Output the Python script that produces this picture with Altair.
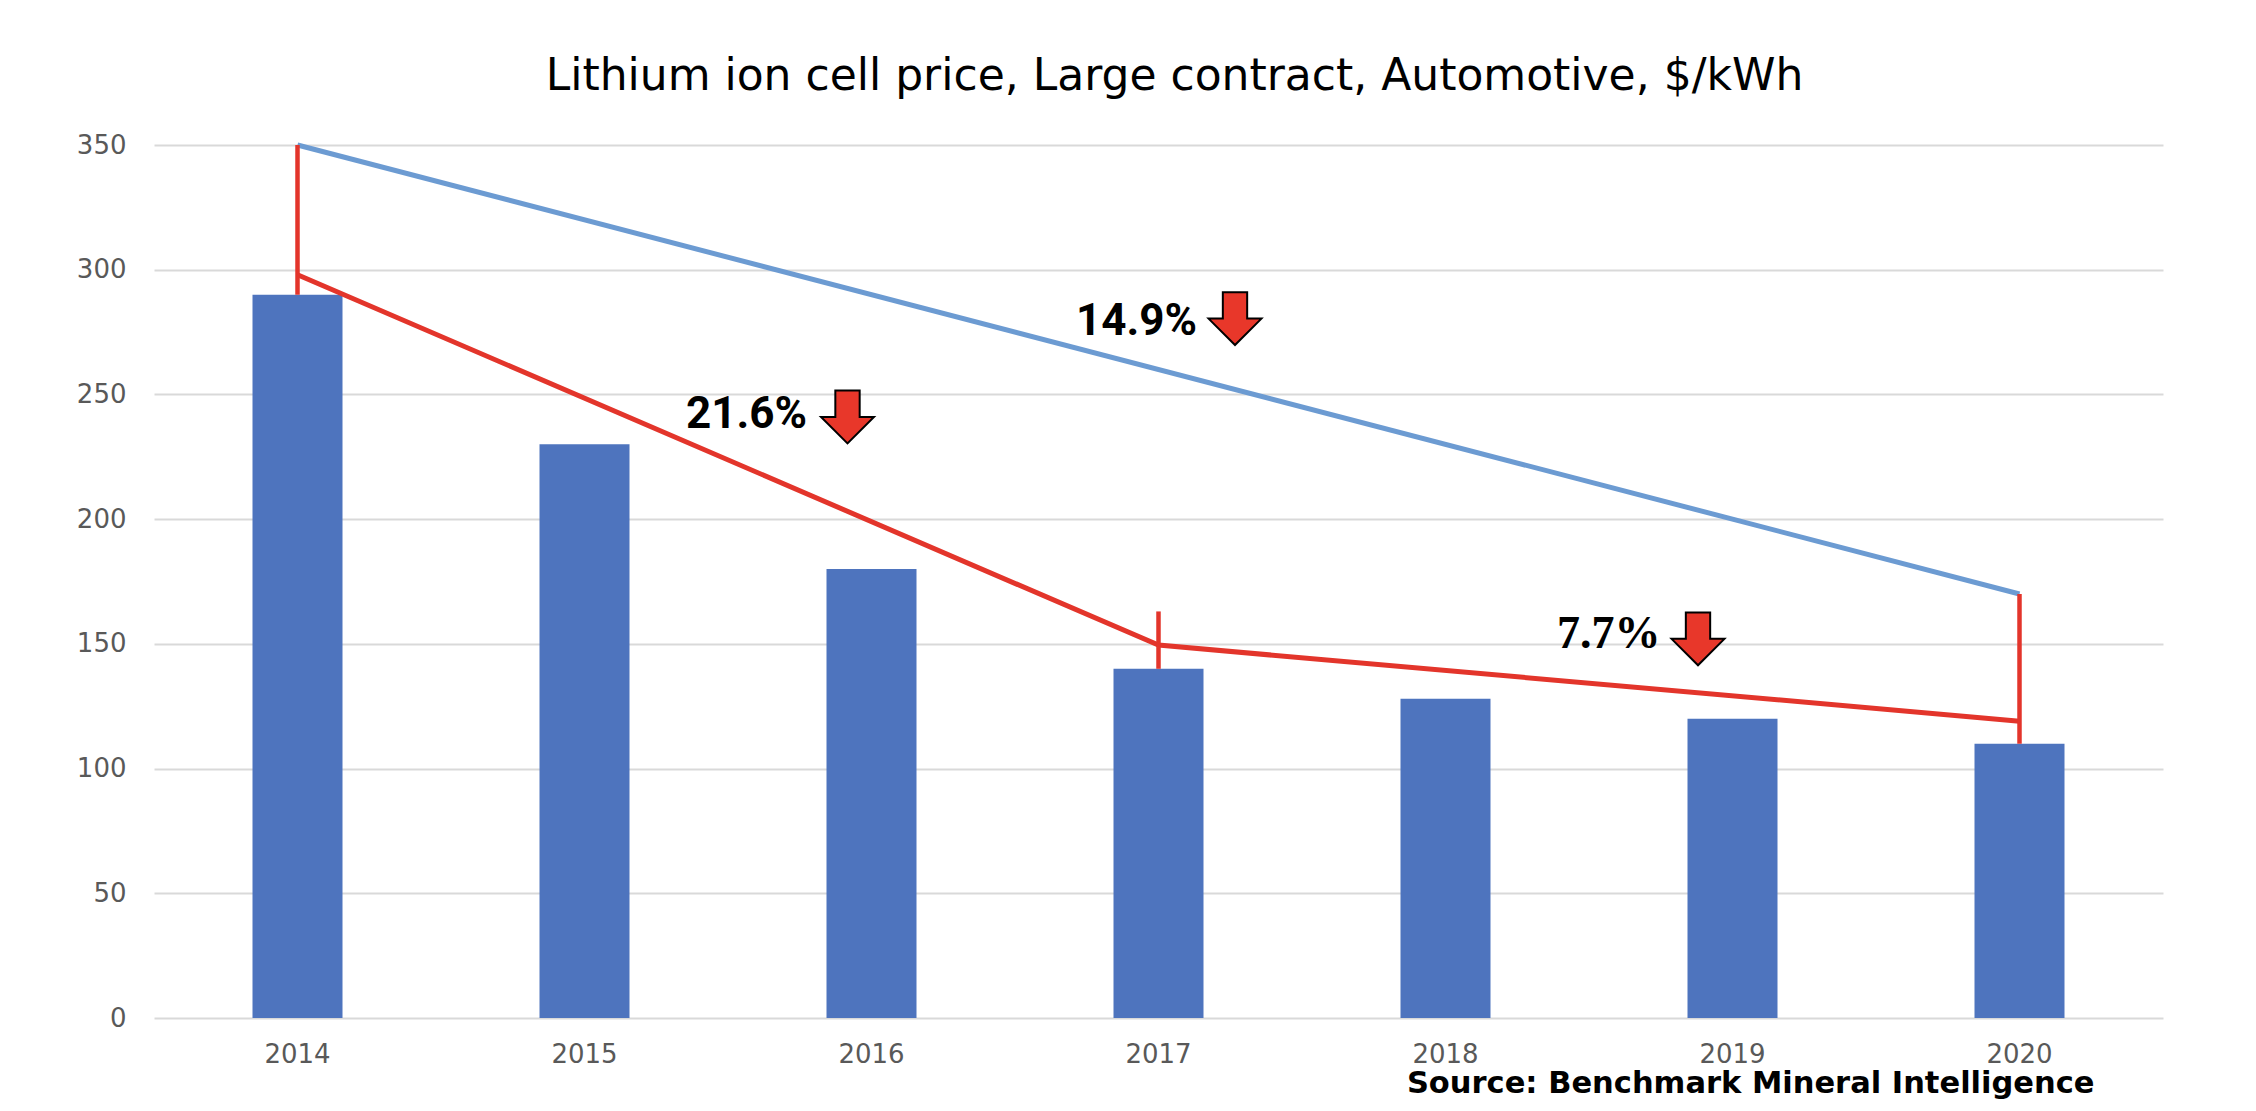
import altair as alt
import pandas as pd

# ---- data ----
years = ["2014", "2015", "2016", "2017", "2018", "2019", "2020"]
prices = [290, 230, 180, 140, 128, 120, 110]

blue_years = ["2014", "2020"]
blue_vals = [350, 170]

red_years = ["2014", "2017", "2020"]
red_vals = [298, 149.5, 119]

rule_years = ["2014", "2017", "2020"]
rule_top = [350, 163, 170]
rule_bottom = [290, 140, 110]

y_ticks = [0, 50, 100, 150, 200, 250, 300, 350]

ann_labels = ["14.9%", "21.6%", "7.7%"]
ann_years = ["2017", "2016", "2019"]
ann_text_y = [273.8, 236.5, 148.3]
ann_arrow_y = [280.4, 241.0, 152.0]

title_text = "Lithium ion cell price, Large contract, Automotive, $/kWh"
source_text = "Source: Benchmark Mineral Intelligence"

# ---- tables ----
bars_df = pd.DataFrame({"year": years, "price": prices})
blue_df = pd.DataFrame({"year": blue_years, "v": blue_vals})
red_df = pd.DataFrame({"year": red_years, "v": red_vals, "order": [0, 1, 2]})
rule_df = pd.DataFrame({"year": rule_years, "top": rule_top, "bottom": rule_bottom})

BAR = "#4E74BE"
BLUE = "#6C9BD2"
RED = "#E3352B"
ARROW = "#E8372A"
GRAY = "#595959"
GRID = "#D9D9D9"

x_scale = alt.Scale(domain=years, paddingInner=0.6864, paddingOuter=0.3432)
y_scale = alt.Scale(domain=[0, 350], nice=False, zero=True)

x_enc = alt.X(
    "year:N",
    scale=x_scale,
    axis=alt.Axis(
        title=None, labelAngle=0, ticks=False, domain=False, grid=False,
        labelFont="DejaVu Sans", labelFontSize=26, labelColor=GRAY,
        labelPadding=23, labelBaseline="top",
    ),
)

bars = alt.Chart(bars_df).mark_bar(color=BAR).encode(
    x=x_enc,
    y=alt.Y(
        "price:Q",
        scale=y_scale,
        axis=alt.Axis(
            title=None, values=y_ticks, ticks=False, domain=False,
            gridColor=GRID, gridWidth=2,
            labelFont="DejaVu Sans", labelFontSize=26, labelColor=GRAY,
            labelPadding=28,
        ),
    ),
)

blue_line = alt.Chart(blue_df).mark_line(color=BLUE, strokeWidth=5).encode(
    x=alt.X("year:N", scale=x_scale), y=alt.Y("v:Q", scale=y_scale)
)

red_line = alt.Chart(red_df).mark_line(color=RED, strokeWidth=5).encode(
    x=alt.X("year:N", scale=x_scale), y=alt.Y("v:Q", scale=y_scale), order="order:Q"
)

red_rules = alt.Chart(rule_df).mark_rule(color=RED, strokeWidth=4.5).encode(
    x=alt.X("year:N", scale=x_scale),
    y=alt.Y("top:Q", scale=y_scale),
    y2="bottom:Q",
)

arrow_path = "M-0.46,-1 L0.46,-1 L0.46,0 L1,0 L0,1 L-1,0 L-0.46,0 Z"

text_styles = [
    dict(font="Roboto", fontSize=44, fontWeight="bold", dx=38.5),
    dict(font="Roboto", fontSize=44, fontWeight="bold", dx=-64.5),
    dict(font="Liberation Serif", fontSize=46, fontWeight="bold", dx=-72),
]
arrow_dx = [76.5, -24, -34.5]

ann_layers = []
for i in range(len(ann_labels)):
    tdf = pd.DataFrame({"year": [ann_years[i]], "v": [ann_text_y[i]], "t": [ann_labels[i]]})
    ann_layers.append(
        alt.Chart(tdf).mark_text(
            align="right", baseline="alphabetic", color="black", **text_styles[i]
        ).encode(
            x=alt.X("year:N", scale=x_scale),
            y=alt.Y("v:Q", scale=y_scale),
            text="t:N",
        )
    )
    adf = pd.DataFrame({"year": [ann_years[i]], "v": [ann_arrow_y[i]]})
    ann_layers.append(
        alt.Chart(adf).mark_point(
            shape=arrow_path, size=2800, filled=True, fill=ARROW, fillOpacity=1,
            stroke="black", strokeWidth=2, opacity=1, xOffset=arrow_dx[i],
        ).encode(
            x=alt.X("year:N", scale=x_scale),
            y=alt.Y("v:Q", scale=y_scale),
        )
    )

src_df = pd.DataFrame({"year": ["2020"], "v": [0], "t": [source_text]})
source = alt.Chart(src_df).mark_text(
    align="right", baseline="alphabetic", font="DejaVu Sans", fontSize=30.5,
    fontWeight="bold", color="black", dx=75, dy=75,
).encode(
    x=alt.X("year:N", scale=x_scale),
    y=alt.Y("v:Q", scale=y_scale),
    text="t:N",
)

chart = alt.layer(
    bars, blue_line, red_line, red_rules, *ann_layers, source
).properties(
    width=2009,
    height=873,
    padding={"left": 146, "top": 137, "right": 70, "bottom": 84},
    autosize=alt.AutoSizeParams(type="none"),
    background="white",
    title=alt.TitleParams(
        text=title_text, font="DejaVu Sans", fontSize=44, fontWeight="normal",
        color="black", anchor="middle", frame="group", baseline="alphabetic",
        offset=-2, dx=16,
    ),
).configure_view(strokeWidth=0, stroke="transparent")

chart.save("out.html", embed_options={"renderer": "svg", "actions": False})
